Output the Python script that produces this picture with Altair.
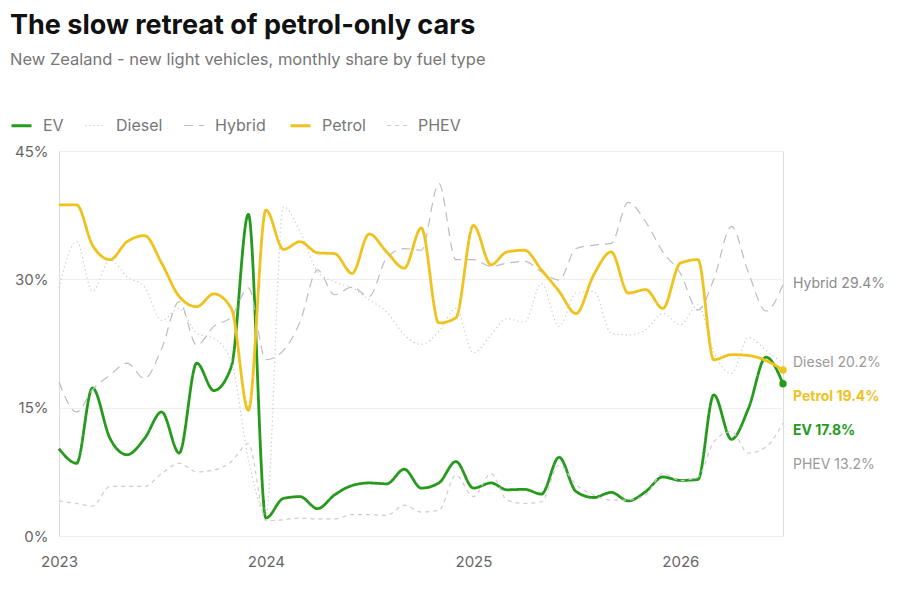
import altair as alt
import pandas as pd

# ---- data (monthly share, %) ----
start_month = "2023-01-01"
n_months = 43
fuels = ["EV", "Diesel", "Hybrid", "Petrol", "PHEV"]

ev = [10.2, 8.5, 17.3, 11.4, 9.5, 11.4, 14.5, 9.7, 20.2, 17.0, 19.8, 37.6,
      2.1, 4.4, 4.6, 3.2, 4.8, 5.9, 6.2, 6.1, 7.8, 5.6, 6.2, 8.7,
      5.6, 6.2, 5.4, 5.45, 4.9, 9.2, 5.2, 4.5, 5.1, 4.1, 5.2, 6.9,
      6.5, 6.6, 16.5, 11.3, 14.9, 20.9, 17.8]
petrol = [38.7, 38.7, 34.0, 32.3, 34.4, 35.1, 31.9, 28.0, 26.8, 28.3, 26.6, 14.7,
          38.1, 33.5, 34.4, 33.1, 33.0, 30.7, 35.3, 33.2, 31.3, 36.0, 24.9, 25.5,
          36.3, 31.7, 33.2, 33.4, 31.1, 28.6, 26.0, 30.5, 33.2, 28.4, 28.8, 26.6,
          31.9, 32.3, 20.6, 21.2, 21.1, 20.5, 19.4]
hybrid = [18.0, 14.5, 17.1, 18.8, 20.2, 18.4, 21.9, 27.4, 22.3, 24.5, 25.6, 29.0,
          20.6, 21.7, 25.0, 31.1, 28.2, 29.1, 28.0, 32.5, 33.6, 33.4, 41.2, 32.3,
          32.3, 31.5, 31.9, 32.1, 30.9, 29.9, 33.6, 34.0, 34.2, 39.0, 36.7, 33.2,
          30.7, 26.4, 30.0, 36.2, 30.8, 26.3, 29.4]
diesel = [29.0, 34.4, 28.6, 32.3, 30.3, 29.1, 25.2, 26.6, 23.7, 23.1, 20.4, 9.0,
          2.5, 38.5, 35.6, 30.9, 29.7, 29.0, 27.6, 26.2, 23.5, 22.4, 23.9, 26.6,
          21.4, 23.5, 25.4, 25.0, 29.5, 24.5, 28.4, 28.6, 23.7, 23.5, 24.1, 26.0,
          24.7, 27.0, 21.5, 19.0, 23.2, 21.7, 20.2]
phev = [4.1, 3.8, 3.5, 5.8, 5.8, 5.8, 7.3, 8.5, 7.5, 7.7, 8.7, 10.8,
        1.8, 1.9, 2.1, 2.0, 2.0, 2.5, 2.5, 2.4, 3.6, 2.8, 3.0, 7.1,
        4.6, 7.3, 4.2, 3.8, 4.0, 8.3, 6.0, 4.8, 4.2, 4.2, 4.8, 7.3,
        6.5, 6.9, 11.0, 12.2, 9.7, 10.4, 13.2]

series = {"EV": ev, "Diesel": diesel, "Hybrid": hybrid, "Petrol": petrol, "PHEV": phev}
year_ticks = [2023, 2024, 2025, 2026]
y_ticks = [0, 15, 30, 45]

# ---- styles ----
GREEN = "#259a1c"
YELLOW = "#efc21e"
FONT = "Inter"
line_colors = [GREEN, "#c8c8c8", "#bdbdbd", YELLOW, "#cccccc"]
line_dashes = [[1, 0], [1.2, 3], [9, 6], [1, 0], [4, 4]]
line_widths = [2.8, 1.2, 1.2, 2.8, 1.2]
label_colors = {"EV": GREEN, "Diesel": "#9a9a9a", "Hybrid": "#8a8a8a",
                "Petrol": YELLOW, "PHEV": "#9a9a9a"}
bold_labels = ["EV", "Petrol"]

dates = pd.date_range(start_month, periods=n_months, freq="MS")
rows = []
for f in fuels:
    for d, v in zip(dates, series[f]):
        rows.append({"date": d, "fuel": f, "value": v})
df = pd.DataFrame(rows)

# end labels with a simple vertical dodge (min gap in % units)
last_date = dates[-1]
ends = sorted([(f, series[f][-1]) for f in fuels], key=lambda t: -t[1])
gap = 3.95
lab_rows = []
prev = None
for f, v in ends:
    ly = v if prev is None else min(v, prev - gap)
    prev = ly
    lab_rows.append({"date": last_date, "fuel": f, "value": v, "label_y": ly,
                     "label": f"{f} {v:.1f}%", "tcolor": label_colors[f],
                     "bold": f in bold_labels})
lab = pd.DataFrame(lab_rows)

x_enc = alt.X("date:T",
              scale=alt.Scale(domain=[alt.DateTime(year=2023, month=1, date=1),
                                      alt.DateTime(year=2026, month=7, date=1)], nice=False),
              axis=alt.Axis(values=[alt.DateTime(year=y, month=1, date=1) for y in year_ticks],
                            format="%Y", title=None, grid=False, domain=False, ticks=False,
                            labelPadding=18, labelFontSize=15, labelColor="#666",
                            labelFont=FONT, labelAlign="center"))
y_scale = alt.Scale(domain=[0, 45], nice=False)
y_enc = alt.Y("value:Q", scale=y_scale,
              axis=alt.Axis(values=y_ticks, labelExpr="datum.value + '%'", title=None,
                            grid=True, gridColor="#efefef", domain=False, ticks=False,
                            labelPadding=11, labelFontSize=15, labelColor="#666",
                            labelFont=FONT))

legend = alt.Legend(title=None, orient="none", legendX=-49, legendY=-37,
                    direction="horizontal", symbolType="stroke", symbolSize=400,
                    labelFontSize=16, labelColor="#777", labelFont=FONT,
                    columnPadding=18, labelOffset=10)

lines = alt.Chart(df).mark_line(interpolate="monotone").encode(
    x=x_enc,
    y=y_enc,
    color=alt.Color("fuel:N", scale=alt.Scale(domain=fuels, range=line_colors), legend=legend),
    strokeDash=alt.StrokeDash("fuel:N", scale=alt.Scale(domain=fuels, range=line_dashes), legend=legend),
    strokeWidth=alt.StrokeWidth("fuel:N", scale=alt.Scale(type="ordinal", domain=fuels, range=line_widths),
                                legend=legend),
)

dots = alt.Chart(lab).transform_filter(alt.datum.bold).mark_circle(size=55, opacity=1).encode(
    x="date:T",
    y=alt.Y("value:Q", scale=y_scale),
    color=alt.Color("tcolor:N", scale=None),
)

labels_norm = alt.Chart(lab).transform_filter(~alt.datum.bold).mark_text(
    align="left", baseline="middle", dx=10, fontSize=14, font=FONT).encode(
    x="date:T",
    y=alt.Y("label_y:Q", scale=y_scale),
    text="label:N",
    color=alt.Color("tcolor:N", scale=None),
)
labels_bold = alt.Chart(lab).transform_filter(alt.datum.bold).mark_text(
    align="left", baseline="middle", dx=10, fontSize=14, font=FONT, fontWeight="bold").encode(
    x="date:T",
    y=alt.Y("label_y:Q", scale=y_scale),
    text="label:N",
    color=alt.Color("tcolor:N", scale=None),
)

chart = alt.layer(lines, dots, labels_norm, labels_bold).properties(
    width=724, height=385,
    padding={"left": 2, "top": 3, "right": 5, "bottom": 5},
    title=alt.TitleParams(
        text="The slow retreat of petrol-only cars",
        subtitle="New Zealand - new light vehicles, monthly share by fuel type",
        anchor="start", frame="group", dx=-49, offset=45,
        font=FONT, fontSize=27, fontWeight="bold", color="#111111",
        subtitleFont=FONT, subtitleFontSize=16.5, subtitleColor="#777777",
        subtitlePadding=12),
).configure_view(stroke=None).configure(background="white")

chart.save("out.html", embed_options={"renderer": "svg", "actions": False})
